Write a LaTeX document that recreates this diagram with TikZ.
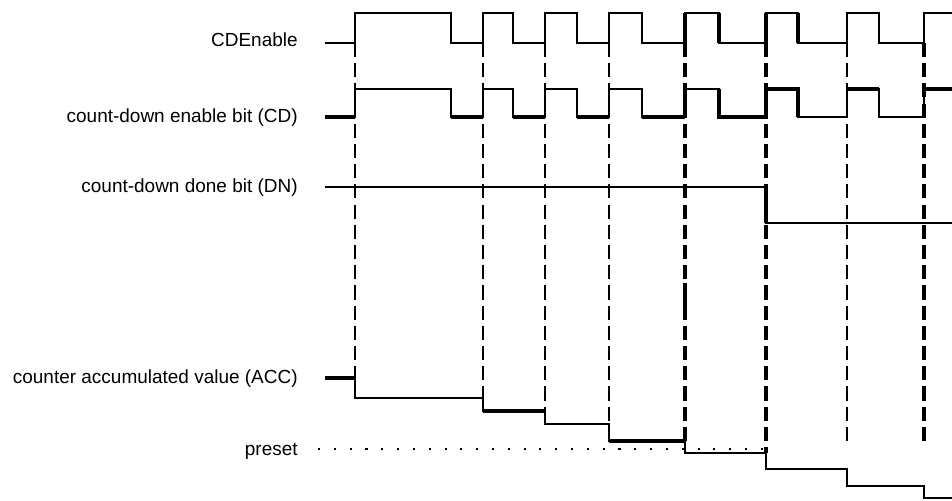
\documentclass[tikz,border=0pt]{standalone}
\usepackage{fontspec}
\setmainfont{Liberation Sans}
\usetikzlibrary{positioning}

\begin{document}
\begin{tikzpicture}[x=0.02cm, y=-0.02cm,
    wave/.style={line width=0.75pt},
    wavebold/.style={line width=1.8pt},
    trigger/.style={line width=0.75pt, dash pattern=on 8pt off 3.5pt},
    triggerbold/.style={line width=1.8pt, dash pattern=on 8pt off 3.5pt},
    presetdots/.style={line width=1.2pt, dash pattern=on 1.2pt off 7.8pt},
    lbl/.style={anchor=base east, inner sep=0pt, font=\fontsize{10.8}{13}\selectfont}]
    \useasboundingbox (0,0) rectangle (952,500);
    % Labels
    \node[lbl] (lblen)  at (298,47)  {CDEnable};
    \node[lbl] (lblcd)  at (298,122) {count-down enable bit (CD)};
    \node[lbl] (lbldn)  at (298,192) {count-down done bit (DN)};
    \node[lbl] (lblacc) at (298,383) {counter accumulated value (ACC)};
    \node[lbl] (lblpre) at (298,455) {preset};
    % Trigger lines (one per rising edge of CDEnable)
    \foreach \x/\y in {355/378, 483/398, 545/411, 609/424, 847/446}
        \draw[trigger] (\x,43) -- (\x,\y);
    \foreach \x/\y in {685/441, 766/453, 924/446}
        \draw[triggerbold] (\x,43) -- (\x,\y);
    \draw[wavebold] (685,283) -- (685,318);
    % CDEnable input
    \draw[wave] (325,43) -- (355,43) -- (355,13) -- (451,13) -- (451,43)
        -- (483,43) -- (483,13) -- (513,13) -- (513,43) -- (545,43) -- (545,13)
        -- (577,13) -- (577,43) -- (609,43) -- (609,13) -- (642,13) -- (642,43)
        -- (685,43) -- (685,13) -- (719,13) -- (719,43) -- (766,43) -- (766,13)
        -- (798,13) -- (798,43) -- (847,43) -- (847,13) -- (879,13) -- (879,43)
        -- (924,43) -- (924,13) -- (952,13);
    \foreach \x in {685, 719, 766, 798}
        \draw[wavebold] (\x,13) -- (\x,43);
    % Count-down enable bit (CD)
    \draw[wave] (325,117) -- (355,117) -- (355,89) -- (451,89) -- (451,117)
        -- (483,117) -- (483,89) -- (513,89) -- (513,117) -- (545,117) -- (545,89)
        -- (577,89) -- (577,117) -- (609,117) -- (609,89) -- (642,89) -- (642,117)
        -- (685,117) -- (685,89) -- (719,89) -- (719,117) -- (766,117) -- (766,89)
        -- (798,89) -- (798,117) -- (847,117) -- (847,89) -- (879,89) -- (879,117)
        -- (924,117) -- (924,89) -- (952,89);
    \foreach \a/\b in {325/355, 451/483, 513/545, 577/609, 642/685}
        \draw[wavebold] (\a,117) -- (\b,117);
    \draw[wavebold] (685,89) -- (685,117);
    \draw[wavebold] (719,89) -- (719,117) -- (766,117) -- (766,89) -- (798,89) -- (798,117);
    \draw[wavebold] (847,89) -- (879,89);
    \draw[wavebold] (924,89) -- (952,89);
    % Count-down done bit (DN)
    \draw[wave] (325,187) -- (766,187) -- (766,223) -- (952,223);
    \draw[wavebold] (766,187) -- (766,223);
    % Accumulated value (ACC)
    \draw[wave] (325,378) -- (355,378) -- (355,398) -- (483,398) -- (483,411)
        -- (545,411) -- (545,424) -- (609,424) -- (609,441) -- (685,441)
        -- (685,453) -- (766,453) -- (766,469) -- (847,469) -- (847,486)
        -- (924,486) -- (924,498) -- (952,498);
    \draw[wavebold] (325,378) -- (355,378);
    \draw[wavebold] (483,411) -- (545,411);
    \draw[wavebold] (609,441) -- (685,441);
    % Preset level
    \draw[presetdots] (318,449) -- (766,449);
\end{tikzpicture}
\end{document}
